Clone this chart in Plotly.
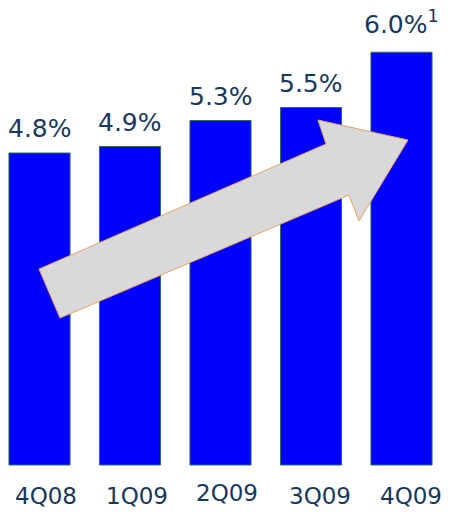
import plotly.graph_objects as go

# ---- data ----
quarters = ["4Q08", "1Q09", "2Q09", "3Q09", "4Q09"]
label_values = [4.8, 4.9, 5.3, 5.5, 6.0]          # printed values (%)
bar_heights = [4.8, 4.9, 5.3, 5.5, 6.35]           # drawn bar heights
footnote_marks = ["", "", "", "", "1"]

# small per-label offsets (style)
cat_xshift = [6, 7, 6, 9, 9]
cat_yshift = [0, 0, 3, 0, 0]
val_yshift = [8, 8, 8, 8, 11]

W, H = 459, 512
FONT = "Verdana, DejaVu Sans, sans-serif"
TXT = "#17375E"

def px(x, y):
    return x / W, 1 - y / H

fig = go.Figure()
fig.add_trace(go.Bar(
    x=quarters, y=bar_heights,
    marker=dict(color="#0000FF", line=dict(color="#2E6B5E", width=1)),
    width=0.675, hoverinfo="skip",
))

annotations = []
for i, (q, v, h, fm) in enumerate(zip(quarters, label_values, bar_heights, footnote_marks)):
    txt = f"{v:.1f}%"
    if fm:
        txt += f"<sup>{fm}</sup>"
    annotations.append(dict(
        x=q, y=h, xref="x", yref="y", text=txt, showarrow=False,
        yanchor="bottom", xanchor="center", yshift=val_yshift[i],
        font=dict(family=FONT, size=25, color=TXT),
    ))
    annotations.append(dict(
        x=q, y=1 - 496 / H, xref="x", yref="paper", text=q, showarrow=False,
        yanchor="middle", xanchor="center", xshift=cat_xshift[i], yshift=cat_yshift[i],
        font=dict(family=FONT, size=23, color=TXT),
    ))

# trend arrow (decoration) in pixel space
arrow_px = [(39, 269), (326, 144), (318, 120), (408, 140), (359, 221), (349, 195), (60, 318)]
path = "M " + " L ".join(f"{px(x, y)[0]:.4f},{px(x, y)[1]:.4f}" for x, y in arrow_px) + " Z"

fig.update_layout(
    width=W, height=H,
    margin=dict(l=0, r=0, t=0, b=0),
    paper_bgcolor="white", plot_bgcolor="white",
    showlegend=False,
    xaxis=dict(visible=False, range=[-0.4365, 4.6354]),
    yaxis=dict(visible=False, range=[-(H - 465) / 65, 465 / 65]),
    annotations=annotations,
    shapes=[dict(type="path", path=path, xref="paper", yref="paper",
                 fillcolor="#D9D9D9", line=dict(color="#E8A060", width=1), layer="above")],
)

fig.write_html("out.html")
